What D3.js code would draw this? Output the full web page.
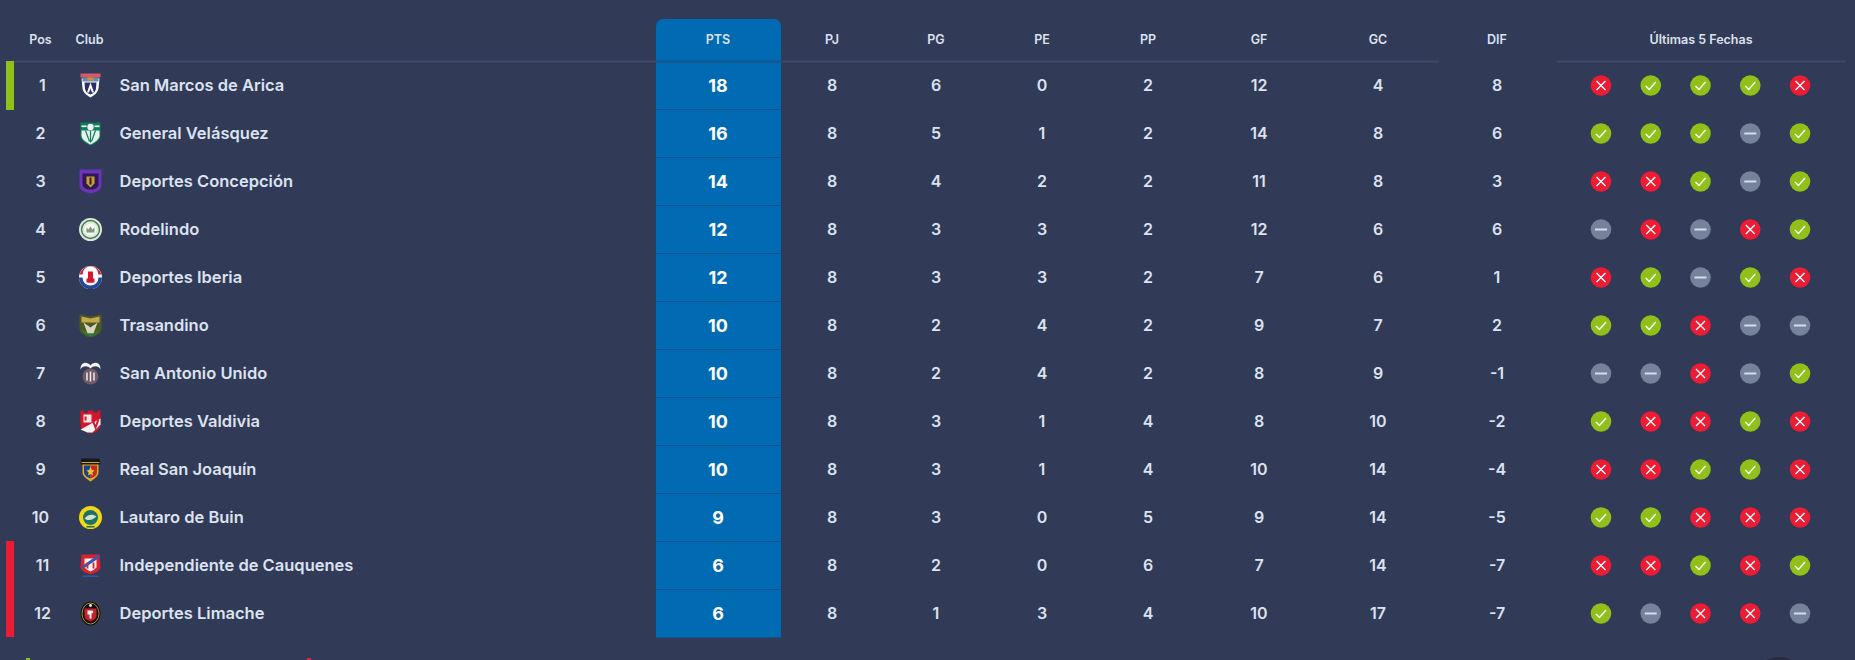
<!DOCTYPE html>
<html><head><meta charset="utf-8">
<script src="https://cdn.jsdelivr.net/npm/d3@7/dist/d3.min.js"></script>
<style>html,body{margin:0;padding:0;background:#313a56;overflow:hidden}svg{display:block}</style>
</head><body><svg id="c" width="1855" height="660"></svg>
<script>
const positions=[1,2,3,4,5,6,7,8,9,10,11,12];
const clubs=["San Marcos de Arica","General Velásquez","Deportes Concepción","Rodelindo","Deportes Iberia","Trasandino","San Antonio Unido","Deportes Valdivia","Real San Joaquín","Lautaro de Buin","Independiente de Cauquenes","Deportes Limache"];
const pts=[18,16,14,12,12,10,10,10,10,9,6,6];
const pj=[8,8,8,8,8,8,8,8,8,8,8,8];
const pg=[6,5,4,3,3,2,2,3,3,3,2,1];
const pe=[0,1,2,3,3,4,4,1,1,0,0,3];
const pp=[2,2,2,2,2,2,2,4,4,5,6,4];
const gf=[12,14,11,12,7,9,8,8,10,9,7,10];
const gc=[4,8,8,6,6,7,9,10,14,14,14,17];
const dif=[8,6,3,6,1,2,-1,-2,-4,-5,-7,-7];
const last5=["LWWWL","WWWDW","LLWDW","DLDLW","LWDWL","WWLDD","DDLDW","WLLWL","LLWWL","WWLLL","LLWLW","WDLLD"];
const headers=["PJ","PG","PE","PP","GF","GC","DIF"];

const BG="#313a56",TXT="#dce2f0",GREEN="#92c01a",RED="#ec1c34",GREY="#76819a",BLUE="#006ab2",LINE="#3f4968";
const svg=d3.select("#c");
const FONT="Inter, 'Noto Sans', sans-serif";
const y=d3.scaleBand().domain(d3.range(12)).range([62,638]);
const xPos={PJ:832,PG:936,PE:1042,PP:1148,GF:1259,GC:1378,DIF:1497};
const formX=d3.scalePoint().domain(d3.range(5)).range([1601,1800]);
const cy=i=>y(i)+y.bandwidth()/2-0.5;

// PTS column
svg.append("path").attr("fill",BLUE)
  .attr("d",`M656 637.5V26a7 7 0 0 1 7-7H774a7 7 0 0 1 7 7V637.5Z`);
// header rules
[[12,1439],[1557,1846]].forEach(s=>svg.append("line").attr("x1",s[0]).attr("x2",s[1]).attr("y1",61.5).attr("y2",61.5).attr("stroke",LINE).attr("stroke-width",2));
svg.append("line").attr("x1",656).attr("x2",781).attr("y1",61.5).attr("y2",61.5).attr("stroke","#0a5a98").attr("stroke-width",2);
// PTS row separators
svg.selectAll(".sep").data(d3.range(1,12)).join("line").attr("x1",656).attr("x2",781)
  .attr("y1",i=>y(i)-0.5).attr("y2",i=>y(i)-0.5).attr("stroke","#0a5288").attr("stroke-width",1);
// zone bars
svg.append("rect").attr("x",6).attr("width",8).attr("y",y(0)-1).attr("height",y.bandwidth()+1).attr("fill",GREEN);
svg.append("rect").attr("x",6).attr("width",8).attr("y",y(10)-1).attr("height",y.bandwidth()*2).attr("fill",RED);
// clipped marks at the bottom edge of the screenshot
svg.append("rect").attr("x",26).attr("y",658).attr("width",4).attr("height",2).attr("fill",GREEN);
svg.append("rect").attr("x",307).attr("y",658).attr("width",4).attr("height",2).attr("fill",RED);
svg.append("circle").attr("cx",1779).attr("cy",684).attr("r",27).attr("fill","#262c42");

function hdr(t,x){svg.append("text").text(t).attr("x",x).attr("y",43.5).attr("text-anchor","middle").attr("fill",TXT)
  .attr("font-family",FONT).attr("font-size",12.5).attr("font-weight",600);}
hdr("Pos",40.5);hdr("Club",89.5);hdr("PTS",718);
headers.forEach(h=>hdr(h,xPos[h]));hdr("Últimas 5 Fechas",1701);

function col(vals,x,opts={}){
  svg.append("g").selectAll("text").data(vals).join("text").text(d=>d)
    .attr("x",typeof x=="function"?(d,i)=>x(i):x).attr("y",(d,i)=>cy(i)+(opts.dy||5.8)).attr("text-anchor",opts.anchor||"middle")
    .attr("fill",opts.fill||TXT).attr("font-family",FONT)
    .attr("font-size",opts.size||16).attr("font-weight",opts.weight||600);
}
col(positions,i=>(i==0||i>=10)?42.5:40.5);
col(clubs,119.5,{anchor:"start",size:16.5,weight:600});
col(pts,718,{fill:"#fff",size:18,weight:700,dy:6.5});
[pj,pg,pe,pp,gf,gc,dif].forEach((v,k)=>col(v,xPos[headers[k]]));

// club crests, small hand-drawn approximations
const shield="M-10,-11H10V2C10,7 5,10 0,12C-5,10 -10,7 -10,2Z";
const crestArt=[
 `<path d="M-9,-7H9L8,3C7,8 3,10 0,12C-3,10 -7,8 -8,3Z" fill="#fff"/><path d="M-6,-3H6L5.5,3C5,7 2,8 0,9C-2,8 -5,7 -5.5,3Z" fill="#2a2f6a"/><path d="M-3.5,7L0,-3L3.5,7H1.5L0,3L-1.5,7Z" fill="#fff"/><rect x="-10" y="-12" width="20" height="4" fill="#d9586a"/><rect x="-8" y="-8" width="16" height="4" fill="#5f8fb0"/><rect x="-3" y="-8" width="6" height="3" fill="#d98a3a"/>`,
 `<path d="${shield}" fill="#0e7f5c"/><path d="M-9,-3H9V2C9,6 4,9 0,11C-4,9 -9,6 -9,2Z" fill="#e8f2ec"/><path d="M-5,-3L-1,8M5,-3L1,8M0,-3V9" stroke="#0e7f5c" stroke-width="1.2"/><circle cy="-6.5" r="3.2" fill="#f2f2f2"/><rect x="-9" y="-8" width="5" height="1.6" fill="#fff"/><rect x="4" y="-8" width="5" height="1.6" fill="#fff"/>`,
 `<path d="M-11,-12H11V4C11,9 5,11 0,12C-5,11 -11,9 -11,4Z" fill="#6d33b8"/><path d="M-8,-8H8V3C8,6 4,8 0,8C-4,8 -8,6 -8,3Z" fill="#2c1a55"/><path d="M-4,-5H4V2L0,6L-4,2Z" fill="#c9a02c"/><rect x="-1" y="-4" width="2" height="7" fill="#2c1a38"/>`,
 `<circle r="11.5" fill="#dfe9dc"/><circle r="9" fill="none" stroke="#3e7a50" stroke-width="1.4"/><circle r="6" fill="#f4f7f0"/><path d="M-4,3V-2L-2,0L0,-3L2,0L4,-2V3Z" fill="#7f9886"/>`,
 `<circle r="11.5" fill="#fff"/><path d="M-11.5,0A11.5,11.5 0 0 0 11.5,0H8A8,8 0 0 1 -8,0Z" fill="#24479a"/><path d="M-11,-3A11.5,11.5 0 0 1 11,-3H8A8,8 0 0 0 -8,-3Z" fill="#d3182f"/><rect x="-2.5" y="-6" width="5" height="11" fill="#d3182f"/><rect x="-4" y="1" width="8" height="4" fill="#d3182f"/>`,
 `<path d="M-11,-11L0,-9L11,-11V3C11,8 5,11 0,12C-5,11 -11,8 -11,3Z" fill="#4a5a22"/><path d="M-9,-9L0,-7L9,-9V-3H-9Z" fill="#c7a84a"/><path d="M-7,-3L0,2L7,-3L3,8H-3Z" fill="#d9d4c0"/><path d="M-9,4C-7,9 -3,10 0,11C3,10 7,9 9,4L3,8H-3Z" fill="#2e7a3a"/>`,
 `<path d="M-10,-4C-10,-12 -3,-12 0,-8C3,-12 10,-12 10,-4C8,-8 3,-8 0,-5C-3,-8 -8,-8 -10,-4Z" fill="#f4f4f4"/><circle cy="3" r="8" fill="#6f5a66"/><path d="M-3.5,-1V7M0,-2V8M3.5,-1V7" stroke="#eee" stroke-width="1.5"/>`,
 `<path d="M-10,-11H-7V-9H-3V-11H3V-9H7V-11H10V3C10,8 5,11 0,12C-5,11 -10,8 -10,3Z" fill="#d4152c"/><path d="M-7,-7H1V1H-7Z" fill="#f3e7e7"/><path d="M-10,8L10,-3V3L2,11H-3Z" fill="#f3f3f3"/><path d="M2,-2L5,6L8,-2" stroke="#d4152c" stroke-width="2" fill="none"/><path d="M-5,-5V-1" stroke="#d4152c" stroke-width="2"/>`,
 `<path d="M-9,-11H9L10,-6C9,-4 -9,-4 -10,-6Z" fill="#181818"/><path d="M-9,-7H9" stroke="#c8a838" stroke-width="1"/><path d="M-8,-5H8V3C8,7 3,10 0,12C-3,10 -8,7 -8,3Z" fill="#e0a82c"/><path d="M-6.5,-4H0V9C-3,8 -6.5,6 -6.5,2Z" fill="#1f3f8f"/><path d="M0,-4H6.5V2C6.5,6 3,8 0,9Z" fill="#c62a20"/><path d="M0,-3L1.3,0.5L4,1L1.8,3L2.5,6L0,4.5L-2.5,6L-1.8,3L-4,1L-1.3,0.5Z" fill="#f0c830"/>`,
 `<circle r="11.5" fill="#efd818"/><circle r="7.5" fill="#1f6f6a"/><path d="M-6,1C-3,-3 2,-4 6,-1C3,2 -2,4 -6,1Z" fill="#cfe3d0"/><rect x="-4" y="8.5" width="8" height="1.5" fill="#2e6a4a"/>`,
 `<path d="M-9,-11L9,-11L10,2C9,6 3,8 0,9C-3,8 -9,6 -10,2Z" fill="#d8222f"/><path d="M-6,-7H6V2C4,4 2,5 0,6C-2,5 -4,4 -6,2Z" fill="#f1f1f4"/><path d="M-8,2L8,-9" stroke="#2d5cb0" stroke-width="3"/><path d="M-3,-3V3M3,-3V3" stroke="#d8222f" stroke-width="1.8"/><rect x="-8" y="10" width="16" height="1.4" fill="#2d5cb0"/>`,
 `<ellipse rx="10" ry="12" fill="#111"/><ellipse rx="8.5" ry="10.5" fill="none" stroke="#b98a35" stroke-width="1"/><path d="M-6,-5H6V2C6,5 3,7 0,8C-3,7 -6,5 -6,2Z" fill="#c8202a"/><path d="M-3,-3H2L3,-1L1,0V5H-1V1H-3Z" fill="#f4f4f4"/><circle cy="-8" r="1.4" fill="#f4f4f4"/>`
];
svg.append("g").selectAll("g").data(crestArt).join("g")
  .attr("transform",(d,i)=>`translate(90.5,${cy(i)})`).html(d=>d);

// last five
const symbol={W:"M-5,0.5L-1.5,4L5,-3.5",L:"M-4.5,-4.5L4.5,4.5M4.5,-4.5L-4.5,4.5",D:"M-6,0H6"};
const fill={W:GREEN,L:RED,D:GREY};
last5.forEach((s,i)=>{
  const g=svg.append("g").selectAll("g").data(s.split("")).join("g")
    .attr("transform",(d,k)=>`translate(${formX(k)},${cy(i)})`);
  g.append("circle").attr("r",10.3).attr("fill",d=>fill[d]);
  g.append("path").attr("d",d=>symbol[d]).attr("fill","none").attr("stroke",d=>d=="D"?"#d6dcec":"#fff").attr("stroke-width",d=>d=="D"?2:1.4);
});
</script></body></html>
